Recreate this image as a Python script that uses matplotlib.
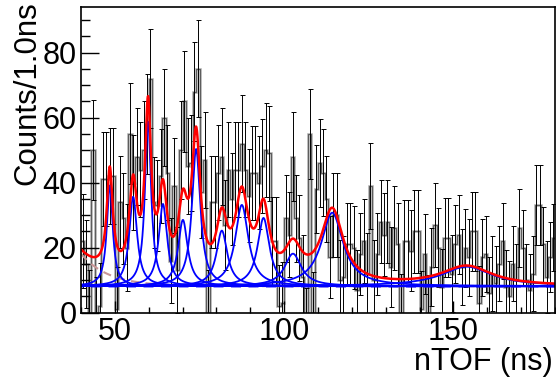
import numpy as np
import matplotlib
matplotlib.use('Agg')
import matplotlib.pyplot as plt
from matplotlib.ticker import MultipleLocator

plt.rcParams['font.family'] = ['Liberation Sans', 'DejaVu Sans']

# гистограмма: бины по 1 нс от 40 до 180
bin_lo, bin_hi = 40, 180
counts = [22, 15, 0, 50, -2, 2, 41, 41, 42, 42,
          1, 34, 29, 20, 55, 40, 48, 44, 50, 58,
          72, 34, 33, 42, 60, 43, 16, 39, 13, 50,
          65, 45, 46, 68, 75, 37, 47, 0, 34, 34,
          43, 48, 27, 44, 35, 44, 44, 52, 44, 36,
          43, 43, 40, 45, 50, 49, 22, 22, 2, 3,
          29, 24, 48, 29, 23, 11, -5, 55, 0, 38,
          46, 43, 35, 17, 30, 30, 10, 11, 21, 21,
          20, 7, 18, 22, 12, 39, 10, 18, 28, 24,
          28, 14, 26, 21, 0, 22, 22, 19, 25, 25,
          1, 18, 0, 14, 27, 20, 8, 23, 23, 12,
          21, 24, 14, 20, 17, 25, 25, 3, 17, 18,
          6, 12, 9, 15, 22, 8, 5, 15, 10, 26,
          20, 10, 7, 12, 33, 33, 21, 11, 17, 23]
errors = [14.6, 13.6, 13.0, 15.4, 13.0, 13.2, 14.5, 14.5, 14.8, 14.8,
          13.0, 14.2, 14.0, 13.5, 15.6, 14.6, 15.0, 14.6, 15.0, 15.3,
          15.2, 14.0, 14.0, 14.6, 15.0, 14.6, 13.2, 14.6, 13.2, 15.0,
          15.5, 14.8, 14.8, 15.2, 14.9, 14.2, 14.8, 13.0, 14.2, 14.2,
          14.6, 14.8, 13.8, 14.6, 14.2, 14.6, 14.6, 14.9, 14.6, 14.2,
          14.4, 14.4, 14.2, 14.4, 14.6, 14.6, 13.4, 13.4, 12.6, 12.6,
          13.4, 13.2, 13.8, 13.4, 13.2, 12.8, 12.4, 13.8, 12.6, 13.4,
          13.6, 13.4, 13.2, 12.6, 13.0, 13.0, 12.4, 12.4, 12.8, 12.8,
          12.8, 12.2, 12.6, 12.8, 12.4, 13.2, 12.4, 12.6, 12.8, 12.8,
          12.8, 12.2, 12.8, 12.6, 12.0, 12.6, 12.6, 12.4, 12.8, 12.8,
          11.8, 12.2, 11.6, 12.0, 13.0, 12.2, 11.6, 12.2, 12.2, 11.8,
          12.0, 12.2, 11.8, 12.0, 11.8, 12.2, 12.2, 11.2, 11.8, 11.8,
          11.2, 11.6, 11.4, 11.6, 11.8, 11.2, 11.0, 11.6, 11.2, 12.0,
          11.6, 11.2, 11.0, 11.4, 12.3, 12.3, 11.6, 11.0, 10.8, 10.3]

# параметры фита: пики (центр, амплитуда над фоном, FWHM)
peak_centers = [48.5, 55.4, 59.8, 64.2, 70.1, 74.0, 81.6, 87.5, 93.9, 102.6, 114.2, 153.9]
peak_amps = [31.0, 27.5, 50.6, 25.3, 20.4, 42.2, 17.1, 25.0, 21.0, 10.0, 22.6, 6.0]
peak_fwhm = [2.1, 2.8, 2.2, 3.0, 3.4, 3.0, 3.9, 4.7, 4.2, 6.0, 7.8, 18.0]
flat_bg = 8.1
exp_amp, exp_tau = 10.0, 8.0

edges = np.arange(bin_lo, bin_hi + 1)
centers = edges[:-1] + 0.5
counts = np.array(counts, dtype=float)
errors = np.array(errors)

x = np.linspace(bin_lo, bin_hi, 2000)
def lorentz(x, c, a, w):
    return a / (1 + ((x - c) / (w / 2)) ** 2)

exp_part = exp_amp * np.exp(-(x - bin_lo) / exp_tau)
peaks = [lorentz(x, c, a, w) for c, a, w in zip(peak_centers, peak_amps, peak_fwhm)]
total = flat_bg + exp_part + np.sum(peaks, axis=0)

fig = plt.figure(figsize=(5.56, 3.81), dpi=100)
ax = fig.add_axes([81 / 556, 68.5 / 381, 474 / 556, 305.5 / 381])

# гистограмма с ошибками
ax.stairs(counts, edges, color='#a8a8a8', lw=1.8, baseline=None)
ax.stairs(counts, edges, color='#222222', lw=0.4, baseline=None)
ax.errorbar(centers, counts, yerr=errors, fmt='none', ecolor='black',
            elinewidth=0.7, capsize=1.8, capthick=0.7)

# компоненты фита
ax.plot(x, flat_bg + exp_part, color='#c89696', lw=1.5, ls=(0, (4, 3)))
ax.plot(x, np.full_like(x, flat_bg), color='#0000ff', lw=1.8, ls=(3, (4, 3)))
for p in peaks:
    ax.plot(x, flat_bg + p, color='#0000ff', lw=1.3)
ax.plot(x, total, color='#ff0000', lw=1.8)

ax.set_xlim(bin_lo, bin_hi)
ax.set_ylim(0, 94)
ax.xaxis.set_major_locator(MultipleLocator(50))
ax.xaxis.set_minor_locator(MultipleLocator(10))
ax.yaxis.set_major_locator(MultipleLocator(20))
ax.yaxis.set_minor_locator(MultipleLocator(5))
ax.tick_params(axis='both', which='both', direction='in', top=False, right=False,
               labelsize=22, width=1)
ax.tick_params(axis='x', which='major', length=9, pad=3)
ax.tick_params(axis='x', which='minor', length=4.5)
ax.tick_params(axis='y', which='major', length=13, pad=3)
ax.tick_params(axis='y', which='minor', length=6.5)
for s in ax.spines.values():
    s.set_linewidth(1.2)

fig.text(27 / 556, 1 - 1 / 381, 'Counts/1.0ns', rotation=90, ha='center', va='top', fontsize=22.5)
fig.text(553 / 556, 1 - 362 / 381, 'nTOF (ns)', ha='right', va='center', fontsize=22)

fig.savefig('out.png', dpi=100)
